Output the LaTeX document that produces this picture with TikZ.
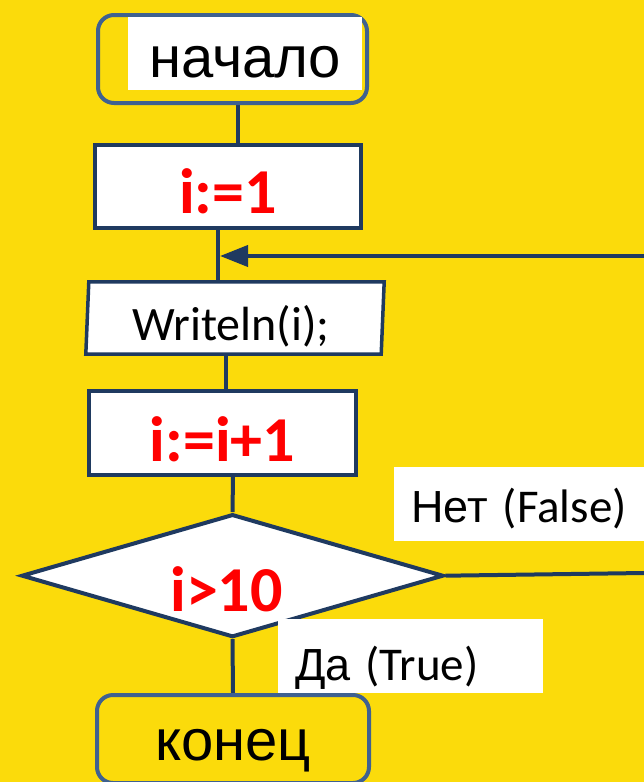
\documentclass[tikz,border=0pt]{standalone}
\usepackage{fontspec}
\setmainfont{Liberation Sans}
\newfontfamily\calibri{Carlito}
\usetikzlibrary{arrows.meta,shapes.geometric,calc}
\definecolor{bgyellow}{HTML}{FBDB0B}
\definecolor{navy}{HTML}{1F3A60}
\definecolor{steel}{HTML}{3F6190}
\definecolor{hotred}{HTML}{FF0000}
\pgfdeclarelayer{backdrop}
\pgfdeclarelayer{wires}
\pgfsetlayers{backdrop,wires,main}

\begin{document}
\begin{tikzpicture}[x=1pt,y=-1pt,
  terminal/.style={draw=steel,line width=4pt,rounded corners=16pt,inner sep=0pt},
  procbox/.style={draw=navy,line width=4pt,fill=white,inner sep=0pt},
  flow/.style={draw=navy,line width=4pt},
  bigred/.style={text=hotred,font=\calibri\bfseries\fontsize{64}{72}\selectfont},
  bodytext/.style={font=\fontsize{58}{66}\selectfont},
  answer/.style={fill=white,inner ysep=0pt,inner xsep=17pt,align=left,
    anchor=base west,font=\fontsize{45}{54}\selectfont},
  falsefont/.style={}]
\useasboundingbox (0,0) rectangle (644,782);
\begin{pgfonlayer}{backdrop}
  \fill[bgyellow] (0,0) rectangle (644,782);
\end{pgfonlayer}

% start / stop terminals
\node[terminal,minimum width=269pt,minimum height=88pt] (start) at (232.5,59) {};
\node[fill=white,inner sep=0pt,text width=234pt,align=center,
  text height=60pt,text depth=13pt,anchor=base west,bodytext] (startlabel) at (128,77) {начало};

% assignments
\node[procbox,minimum width=266pt,minimum height=83pt,bigred,
  text height=53pt,text depth=0pt] (init) at (228,186.5) {i:=1};

% output (parallelogram drawn from the node corners)
\node[inner sep=0pt,minimum width=298pt,minimum height=72pt,
  font=\calibri\fontsize{48}{56}\selectfont,text height=44pt,text depth=0pt]
  (out) at (235,318) {Writeln(i);\kern8pt};

\node[procbox,minimum width=267pt,minimum height=84pt,bigred,
  text height=56pt,text depth=0pt] (inc) at (222.5,433) {i:=i+1};

% condition
\node[diamond,aspect=3.4,draw=navy,line width=4pt,fill=white,inner sep=0pt,
  minimum width=422pt,minimum height=123pt,bigred,text height=72pt,text depth=0pt]
  (test) at (232.5,575.7) {i>10\kern12pt};

\node[terminal,minimum width=272pt,minimum height=88pt,bodytext,
  text height=42pt,text depth=0pt] (stop) at (233,739) {конец};

% branch labels
\node[answer,text width=226pt,text height=55pt,text depth=19pt] (nolabel) at (394,522)
  {Нет {\calibri\fontsize{47}{56}\selectfont(False)}};
\node[answer,text width=231pt,text height=61pt,text depth=13pt] (yeslabel) at (278,680)
  {Да {\calibri\fontsize{47}{56}\selectfont(True)}};

\coordinate (loopback) at (644,256);
\coordinate (merge) at (220,256);
\coordinate (noexit) at (644,573);

\begin{pgfonlayer}{wires}
  \draw[navy,line width=3.5pt,fill=white]
    ($(out.north west)+(3,0)$) -- (out.north east)
    -- ($(out.south east)+(-3,0)$) -- (out.south west) -- cycle;
  \draw[flow] ([xshift=5.5pt]start.south) -- ([xshift=10pt]init.north);
  \draw[flow] ([xshift=-10pt]init.south) -- ([xshift=-17pt]out.north);
  \draw[flow,-{Triangle[length=28pt,width=21pt]}] (loopback) -- (merge);
  \draw[flow] ([xshift=-9pt]out.south) -- ([xshift=3.5pt]inc.north);
  \draw[flow] ([xshift=10.5pt]inc.south) -- (test.north);
  \draw[flow] (test.east) -- (noexit);
  \draw[flow] (test.south) -- (stop.north);
\end{pgfonlayer}
\end{tikzpicture}
\end{document}
